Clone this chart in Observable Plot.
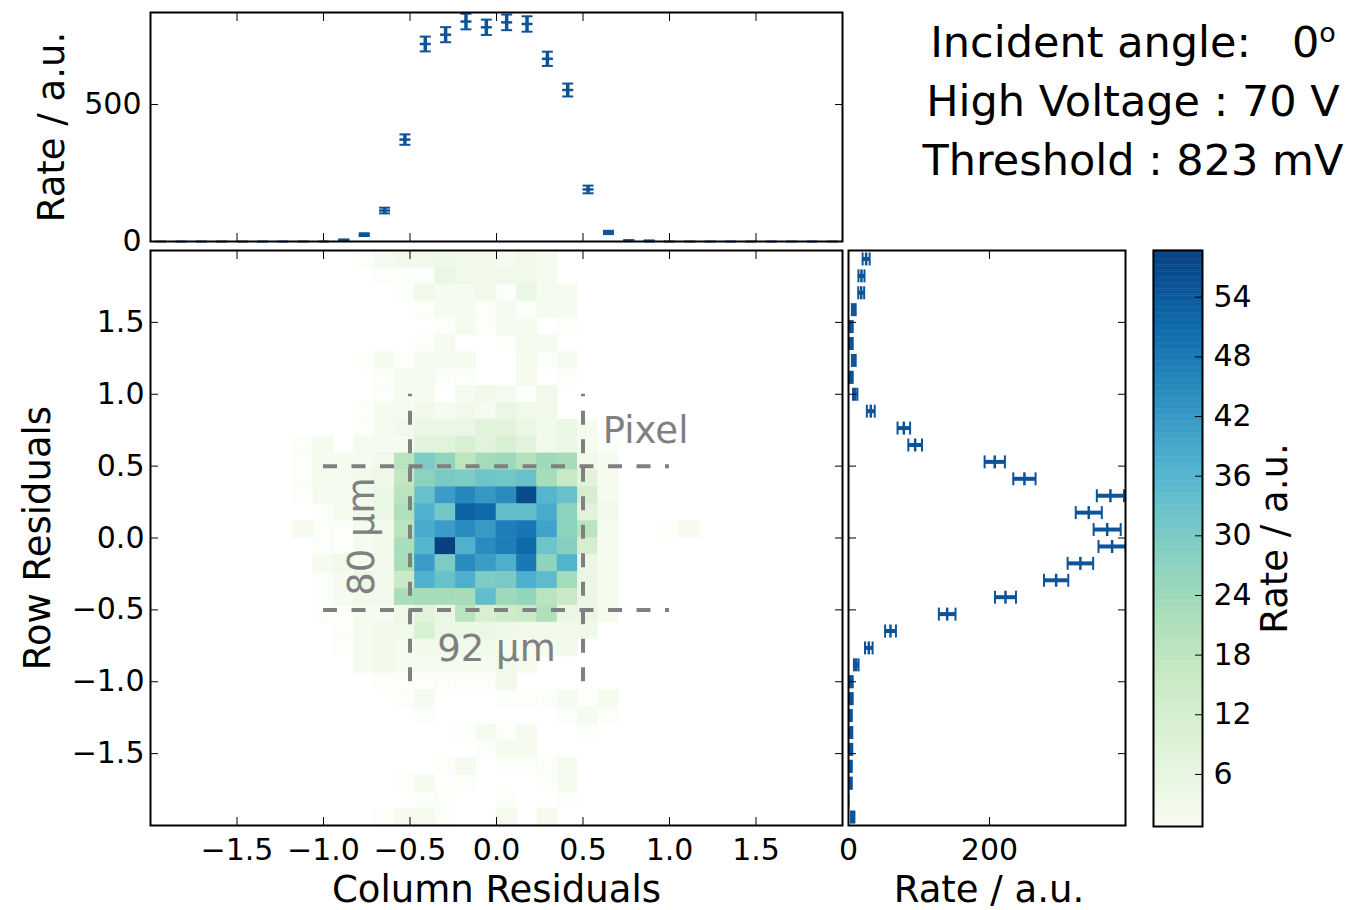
<!DOCTYPE html>
<html><head><meta charset="utf-8">
<script src="https://cdn.jsdelivr.net/npm/d3@7"></script>
<script src="https://cdn.jsdelivr.net/npm/@observablehq/plot@0.6"></script>
<style>
html,body{margin:0;padding:0;background:#fff;}
#wrap{position:relative;width:1356px;height:910px;overflow:hidden;font-family:"DejaVu Sans",sans-serif;background:#fff;}
.tl{position:absolute;left:900px;width:466px;text-align:center;font-size:43px;line-height:50px;height:50px;white-space:pre;color:#000;font-family:"DejaVu Sans",sans-serif;}
.tl .sup{font-size:27px;position:relative;top:-15px;line-height:0;}
</style></head>
<body><div id="wrap">
<div class="tl" id="t1"></div>
<div class="tl" id="t2"></div>
<div class="tl" id="t3"></div>
</div>
<script>
// ---------- data ----------
const titleLines = ["Incident angle:   0", "High Voltage : 70 V", "Threshold : 823 mV"];
const titleSup = "o";
const xTicks = [-1.5, -1.0, -0.5, 0.0, 0.5, 1.0, 1.5];
const yTicks = [-1.5, -1.0, -0.5, 0.0, 0.5, 1.0, 1.5];
const topTicks = [0, 500];
const rightTicks = [0, 200];
const cbTicks = [6, 12, 18, 24, 30, 36, 42, 48, 54];
const residualDomain = [-2, 2];
const nBins = 34;
const topDomain = [0, 836];
const rightDomain = [0, 393];
const colorDomain = [0.762, 58.7];

// 2D histogram, rows from top (row residual +2) to bottom (-2); columns start at bin heatColStart
const heatColStart = 6;
const heatRows = [
  [0,0,0,0,0.8,1.5,3,3,3.5,2.5,3,1.5,3,1.5,0,0,0,0,0,0,0,0],
  [0,0,0,0,0,0.8,0.8,0.8,5,3,3,3,3,1.5,0,0,0,0,0,0,0,0],
  [0,0,0,0,0,0,0.8,3,1.5,1.5,3,0.8,5,1.5,1.5,0,0,0,0,0,0,0],
  [0,0,0,0,0,0,0,0.8,1.5,1.5,0.8,1.5,0.8,1.5,1.5,0,0,0,0,0,0,0],
  [0,0,0,0,0,0,0,0,0.8,1.5,0.8,1.5,1.5,0,0.8,0,0,0,0,0,0,0],
  [0,0,0,0,0,0,0,0.8,1.5,0,0,0.8,1.5,1.5,0,0,0,0,0,0,0,0],
  [0,0,0,0,0.8,1.5,0.8,1.5,1.5,1.5,0,0,1.5,0.8,1.5,0,0,0,0,0,0,0],
  [0,0,0,0,0,0.8,1.5,1.5,0.8,0.8,0,0,1.5,0,0.8,0,0,0,0,0,0,0],
  [0,0,0,0,0,0.8,1.5,1.5,0,1.5,3,1.5,0.8,3,0,0,0,0,0,0,0,0],
  [0,0,0,0,0.8,1.5,1.5,3,1.5,3,1.5,5,3,3,0,0,0,0,0,0,0,0],
  [0,0,0,0,0.8,1.5,3,5,5,5,8,8,5,3,5,1.5,0,0,0,0,0,0],
  [0,0.8,1.5,0,1.5,1.5,1.5,8,8,11,8,11,8,3,5,1.5,0.8,0,0,0,0,0],
  [0,0.8,1.5,1.5,1.5,3,19,29.5,26,18,23,24,20,24,22.5,2,1.5,0,0,0,0,0],
  [0,0.8,1.5,1.5,3,4,17,27,30,29.5,32,31,33,22.5,15,8,1.5,0,0,0,0,0],
  [0,0.8,1.2,1.5,3,5,19,33,41,45,42,44.5,56.5,36,33,12,1.5,0,0,0,0,0],
  [0,0,0.8,1.5,3,5,21,37,31,52,51,34,34,38,27,8,3,0,0,0,0,0],
  [0,1.5,0.8,0.8,1.5,3,19,38,41,44.5,41.5,47,48.5,40,27,19,1.5,0,0,0.8,1.5,0],
  [0,0,0.8,0.8,1.5,3,22,36,58.7,37,44.5,47,51,32,28,12,1.5,0,0,0,0,0],
  [0,0,1.2,3,1.5,3,22,41,29.5,44.5,41,37.5,48,26.5,36.5,5,1.5,0,0,0,0,0],
  [0,0,0.8,1.5,5,3,15,37,33,37.5,29.5,30,37.5,34.5,23,5,1.5,0,0,0,0,0],
  [0,0,0.8,1.5,3,3,22,22.5,22.5,22.5,34,24,26,19,15,5,1.5,0,0,0,0,0],
  [0,0,0.8,0.8,1.5,1.5,4,8,5,19,11,14,15,21,5,5,1.5,0,0,0,0,0],
  [0,0,0,0.8,1.5,3,3,11,5,5,5,3.5,3,3,3,3,0,0,0,0,0,0],
  [0,0,0,0.8,1.5,3,1.5,3,3,3,3,1.5,1.5,1.5,3,0,0,0,0,0,0,0],
  [0,0,0,0,1.5,3,1.5,1.5,1.5,1.5,1.5,3,1.5,0,0,0,0,0,0,0,0,0],
  [0,0,0,0,0,0.8,0.8,0.8,0.8,0.8,0.8,3,0,0,0,0,0,0,0,0,0,0],
  [0,0,0,0,0,0,0.8,1.5,0,0,0,0.8,0.8,0.8,1.5,0.8,1.5,0,0,0,0,0],
  [0,0,0,0,0,0,0,0.8,0,0,0,0,0,0,0.8,1.5,0.8,0,0,0,0,0],
  [0,0,0,0,0,0,0,0,0,0.8,1.5,0.8,1.5,0,0,0.8,0,0,0,0,0,0],
  [0,0,0,0,0,0,0,0,0,0,0.8,1.5,1.5,0,0,0,0,0,0,0,0,0],
  [0,0,0,0,0,0,0,0,0.8,1.5,0,0.8,0.8,0.8,1.5,0,0,0,0,0,0,0],
  [0,0,0,0,0,0,0.8,1.5,0,0.8,0,0,0,0.8,1.5,0,0,0,0,0,0,0],
  [0,0,0,0,0,0,0,0.8,0.8,0,0,0.8,0,0,0.8,0,0,0,0,0,0,0],
  [0,0,0,0,0,0.8,1.5,1.5,0.8,0,0,1.5,0,1.5,0,0,0,0,0,0,0,0]
];

// column projection (bins from -2 to +2)
const topRate = [0,0,0,0,0,0,0,0,0,5,25,113,372,721,755,803,782,800,794,667,553,190,33,3,2,0,0,0,0,0,0,0,0,0];
const topErr  = [0,0,0,0,0,0,0,0,0,2.5,5,10.5,19,27,27.5,28.5,28,28.5,28,26,23.5,14,6,1.8,1.4,0,0,0,0,0,0,0,0,0];
// row projection (bins from -2 to +2)
const rightRate = [6,0,3,3,3.5,3.5,3,4,4,11,28.8,59.6,140,222.7,294.6,329,374,367,340.9,371.6,249.6,207.5,94.6,78.5,31.6,9.5,4,7.5,4,4,7.5,18,18.4,25];
const rightErr  = [2.4,0,1.7,1.7,1.9,1.9,1.7,2,2,3.3,5.4,7.7,11.8,14.9,17.2,18.1,19.3,19.2,18.5,19.3,15.8,14.4,9.7,8.9,5.6,3.1,2,2.7,2,2,2.7,4.2,4.3,5];

const pixelEdges = [-0.5, 0.5];
const pixelSpan = [-1, 1];
const annotations = [
  {text: "Pixel", x: 0.862, y: 0.743, rotate: 0},
  {text: "92 µm", x: 0.0, y: -0.77, rotate: 0},
  {text: "80 µm", x: -0.775, y: 0.01, rotate: -90}
];

// ---------- title ----------
["t1", "t2", "t3"].forEach((id, i) => {
  const el = document.getElementById(id);
  el.textContent = titleLines[i];
  if (i === 0) { const s = document.createElement("span"); s.className = "sup"; s.textContent = titleSup; el.appendChild(s); }
});
[17, 76, 135].forEach((t, i) => { document.getElementById(["t1","t2","t3"][i]).style.top = t + "px"; });

// ---------- derived ----------
const binW = (residualDomain[1] - residualDomain[0]) / nBins;
const edge = i => residualDomain[0] + i * binW;
const center = i => residualDomain[0] + (i + 0.5) * binW;

const cells = [];
heatRows.forEach((row, r) => {
  const k = nBins - 1 - r;
  row.forEach((v, j) => {
    if (v > 0) {
      const c = heatColStart + j;
      cells.push({x1: edge(c), x2: edge(c + 1), y1: edge(k), y2: edge(k + 1), v});
    }
  });
});
const topData = topRate.map((v, i) => ({x: center(i), v, e: topErr[i]}));
const rightData = rightRate.map((v, i) => ({y: center(i), v, e: rightErr[i]}));

// ---------- style ----------
const FONT = "DejaVu Sans";
const BLUE = "#0d5399";
const GRAY = "#808080";
const TL = 8;
const colorOpts = {type: "linear", scheme: "GnBu", domain: colorDomain, clamp: true};
const svgStyle = {fontFamily: FONT, fontSize: "30px", background: "transparent", overflow: "visible", color: "#000"};
const fmt1 = d3.format(".1f");
const none = () => "";
const faint = v => (v < 1 ? 0.35 : 1);
const zeroOp = d => (d.v === 0 ? 0.35 : 1);

const hCap = {draw(ctx, size) { const r = Math.sqrt(size / Math.PI); ctx.moveTo(-r, 0); ctx.lineTo(r, 0); }};
const vCap = {draw(ctx, size) { const r = Math.sqrt(size / Math.PI); ctx.moveTo(0, -r); ctx.lineTo(0, r); }};

function tickMarksX(ticks) {
  return [
    Plot.axisX(ticks, {anchor: "bottom", tickSize: TL, dy: -TL, tickFormat: none, label: null, stroke: "#000"}),
    Plot.axisX(ticks, {anchor: "top", tickSize: TL, dy: TL, tickFormat: none, label: null, stroke: "#000"})
  ];
}
function tickMarksY(ticks) {
  return [
    Plot.axisY(ticks, {anchor: "left", tickSize: TL, dx: TL, tickFormat: none, label: null, stroke: "#000"}),
    Plot.axisY(ticks, {anchor: "right", tickSize: TL, dx: -TL, tickFormat: none, label: null, stroke: "#000"})
  ];
}
function label(text, frameAnchor, dx, dy, rotate) {
  return Plot.text([text], {frameAnchor, dx, dy, rotate, textAnchor: "middle", lineAnchor: "middle", fontSize: 37, fill: "#000"});
}
function place(svg, left, top) {
  svg.style.position = "absolute";
  svg.style.left = left + "px";
  svg.style.top = top + "px";
  document.getElementById("wrap").appendChild(svg);
}

// ---------- main heatmap ----------
const main = Plot.plot({
  width: 850, height: 670,
  marginLeft: 150, marginRight: 8, marginTop: 10, marginBottom: 85,
  x: {domain: residualDomain}, y: {domain: residualDomain},
  color: colorOpts,
  style: svgStyle,
  marks: [
    Plot.rect(cells, {x1: "x1", x2: "x2", y1: "y1", y2: "y2", fill: "v", stroke: "v", strokeWidth: 0.6,
      fillOpacity: d => faint(d.v), strokeOpacity: d => faint(d.v)}),
    Plot.ruleY(pixelEdges, {x1: pixelSpan[0], x2: pixelSpan[1], stroke: GRAY, strokeWidth: 4, strokeDasharray: "14,14.5"}),
    Plot.ruleX(pixelEdges, {y1: pixelSpan[0], y2: pixelSpan[1], stroke: GRAY, strokeWidth: 4, strokeDasharray: "14,14.5"}),
    Plot.text(annotations, {x: "x", y: "y", text: "text", rotate: "rotate", fill: GRAY, fontSize: 37}),
    ...tickMarksX(xTicks),
    ...tickMarksY(yTicks),
    Plot.axisX(xTicks, {anchor: "bottom", tickSize: 0, tickPadding: 13, tickFormat: fmt1, label: null}),
    Plot.axisY(yTicks, {anchor: "left", tickSize: 0, tickPadding: 6, tickFormat: fmt1, label: null}),
    label("Column Residuals", "bottom", 0, 65, 0),
    label("Row Residuals", "left", -112, 0, -90),
    Plot.frame({stroke: "#000", strokeWidth: 2})
  ]
});
place(main, 0, 240);

// ---------- top projection ----------
const topP = Plot.plot({
  width: 850, height: 250,
  marginLeft: 150, marginRight: 8, marginTop: 12, marginBottom: 9,
  x: {domain: residualDomain}, y: {domain: topDomain},
  style: svgStyle,
  marks: [
    Plot.ruleX(topData, {x: "x", y1: d => d.v - d.e, y2: d => d.v + d.e, stroke: BLUE, strokeWidth: 3.5}),
    Plot.dot(topData, {x: "x", y: d => d.v - d.e, symbol: hCap, r: 5.5, stroke: BLUE, strokeWidth: 2, fill: "none", strokeOpacity: zeroOp}),
    Plot.dot(topData, {x: "x", y: d => d.v + d.e, symbol: hCap, r: 5.5, stroke: BLUE, strokeWidth: 2, fill: "none", strokeOpacity: zeroOp}),
    Plot.dot(topData, {x: "x", y: "v", symbol: hCap, r: 5.5, stroke: BLUE, strokeWidth: 2.5, fill: "none", strokeOpacity: zeroOp}),
    ...tickMarksX(xTicks),
    ...tickMarksY(topTicks),
    Plot.axisY(topTicks, {anchor: "left", tickSize: 0, tickPadding: 9, label: null}),
    label("Rate / a.u.", "left", -98, 0, -90),
    Plot.frame({stroke: "#000", strokeWidth: 2})
  ]
});
place(topP, 0, 0);

// ---------- right projection ----------
const rightP = Plot.plot({
  width: 300, height: 670,
  marginLeft: 8, marginRight: 15, marginTop: 10, marginBottom: 85,
  x: {domain: rightDomain}, y: {domain: residualDomain},
  style: svgStyle,
  marks: [
    Plot.ruleY(rightData, {y: "y", x1: d => d.v - d.e, x2: d => d.v + d.e, stroke: BLUE, strokeWidth: 4, clip: true}),
    Plot.dot(rightData, {y: "y", x: d => d.v - d.e, symbol: vCap, r: 6.5, stroke: BLUE, strokeWidth: 2, fill: "none", clip: true, strokeOpacity: zeroOp}),
    Plot.dot(rightData, {y: "y", x: d => d.v + d.e, symbol: vCap, r: 6.5, stroke: BLUE, strokeWidth: 2, fill: "none", clip: true, strokeOpacity: zeroOp}),
    Plot.dot(rightData, {y: "y", x: "v", symbol: vCap, r: 6.5, stroke: BLUE, strokeWidth: 2.5, fill: "none", clip: true, strokeOpacity: zeroOp}),
    ...tickMarksX(rightTicks),
    ...tickMarksY(yTicks),
    Plot.axisX(rightTicks, {anchor: "bottom", tickSize: 0, tickPadding: 13, label: null}),
    label("Rate / a.u.", "bottom", 2, 65, 0),
    Plot.frame({stroke: "#000", strokeWidth: 2})
  ]
});
place(rightP, 840, 240);

// ---------- colorbar ----------
const nSteps = 240;
const stepV = (colorDomain[1] - colorDomain[0]) / nSteps;
const cbSteps = d3.range(nSteps).map(i => colorDomain[0] + i * stepV);
const cb = Plot.plot({
  width: 216, height: 670,
  marginLeft: 13, marginRight: 154, marginTop: 10, marginBottom: 84,
  x: {domain: [0, 1], axis: null}, y: {domain: colorDomain},
  color: colorOpts,
  style: svgStyle,
  marks: [
    Plot.rect(cbSteps, {x1: 0, x2: 1, y1: d => d, y2: d => d + stepV, fill: d => d + stepV / 2, stroke: d => d + stepV / 2, strokeWidth: 0.5}),
    Plot.axisY(cbTicks, {anchor: "right", tickSize: TL, dx: -TL, tickFormat: none, label: null, stroke: "#000"}),
    Plot.axisY(cbTicks, {anchor: "right", tickSize: 0, tickPadding: 11, label: null}),
    label("Rate / a.u.", "right", 73, 0, -90),
    Plot.frame({stroke: "#000", strokeWidth: 2})
  ]
});
place(cb, 1140, 240);
</script>
</body></html>
